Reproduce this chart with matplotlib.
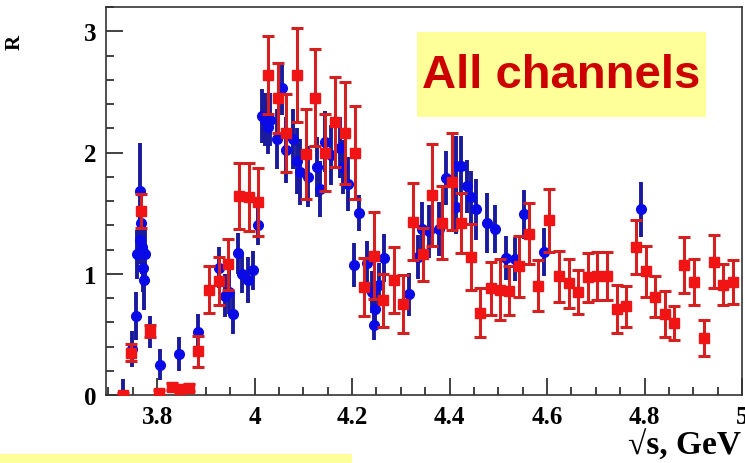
import matplotlib.pyplot as plt
from matplotlib.patches import Rectangle
from matplotlib.ticker import MultipleLocator

# Red squares: sqrt(s) [GeV], R, error
red_x = [3.730, 3.747, 3.767, 3.786, 3.804, 3.830, 3.847, 3.865, 3.884, 3.906,
         3.927, 3.945, 3.967, 3.988, 4.006, 4.027, 4.047, 4.065, 4.086, 4.106,
         4.124, 4.145, 4.165, 4.186, 4.206, 4.224, 4.245, 4.263, 4.286, 4.304,
         4.324, 4.345, 4.363, 4.384, 4.404, 4.424, 4.443, 4.463, 4.484, 4.504,
         4.522, 4.543, 4.563, 4.582, 4.604, 4.624, 4.645, 4.663, 4.684, 4.702,
         4.722, 4.743, 4.761, 4.782, 4.802, 4.822, 4.843, 4.861, 4.882, 4.902,
         4.922, 4.943, 4.961, 4.982]
red_y = [0.00, 0.35, 1.52, 0.53, 0.02, 0.07, 0.05, 0.06, 0.36, 0.87,
         0.94, 1.08, 1.64, 1.63, 1.59, 2.64, 2.45, 2.16, 2.64, 1.99,
         2.45, 2.00, 2.25, 2.16, 2.00, 0.89, 1.15, 0.78, 0.95, 0.75,
         1.43, 1.16, 1.65, 1.42, 1.76, 1.42, 1.14, 0.68, 0.88, 0.87,
         0.86, 1.06, 1.33, 0.90, 1.44, 0.98, 0.92, 0.85, 0.97, 0.98,
         0.98, 0.71, 0.73, 1.22, 1.02, 0.81, 0.67, 0.59, 1.07, 0.93,
         0.47, 1.10, 0.91, 0.93]
red_err = [0.02, 0.07, 0.14, 0.05, 0.02, 0.03, 0.03, 0.03, 0.13, 0.19,
           0.20, 0.21, 0.27, 0.28, 0.28, 0.32, 0.29, 0.32, 0.39, 0.37,
           0.40, 0.32, 0.37, 0.42, 0.38, 0.24, 0.36, 0.22, 0.27, 0.24,
           0.32, 0.22, 0.42, 0.30, 0.40, 0.25, 0.27, 0.20, 0.22, 0.25,
           0.20, 0.25, 0.25, 0.21, 0.26, 0.21, 0.20, 0.18, 0.20, 0.20,
           0.20, 0.20, 0.17, 0.22, 0.21, 0.17, 0.19, 0.14, 0.23, 0.19,
           0.15, 0.22, 0.17, 0.18]

# Blue circles
blue_x = [3.730, 3.748, 3.757, 3.765, 3.766, 3.759, 3.764, 3.768, 3.771, 3.775,
          3.770, 3.772, 3.786, 3.806, 3.845, 3.884, 3.927, 3.939, 3.947, 3.955,
          3.966, 3.975, 3.986, 3.996, 4.006, 4.016, 4.022, 4.027, 4.032, 4.045,
          4.057, 4.065, 4.078, 4.086, 4.094, 4.110, 4.127, 4.135, 4.145, 4.157,
          4.175, 4.182, 4.192, 4.214, 4.204, 4.231, 4.245, 4.246, 4.240, 4.265,
          4.255, 4.316, 4.335, 4.343, 4.357, 4.378, 4.392, 4.414, 4.424, 4.414,
          4.435, 4.443, 4.455, 4.476, 4.494, 4.516, 4.535, 4.553, 4.594, 4.792]
blue_y = [0.00, 0.38, 0.65, 1.68, 1.42, 1.16, 1.28, 1.22, 1.18, 1.16,
          1.05, 0.95, 0.52, 0.25, 0.34, 0.52, 1.05, 0.82, 0.85, 0.67,
          1.17, 1.00, 0.95, 1.03, 1.40, 2.30, 2.27, 2.21, 2.27, 2.11,
          2.53, 2.02, 2.11, 1.93, 1.84, 1.80, 1.88, 1.70, 2.09, 1.98,
          2.04, 1.88, 1.74, 1.50, 1.07, 1.09, 0.58, 0.71, 0.85, 1.13,
          0.91, 0.83, 1.14, 1.37, 1.35, 1.37, 1.79, 1.89, 1.89, 1.55,
          1.72, 1.63, 1.53, 1.42, 1.37, 1.13, 1.12, 1.49, 1.18, 1.53]
blue_err = [0.13, 0.15, 0.20, 0.40, 0.22, 0.20, 0.20, 0.22, 0.25, 0.20,
            0.20, 0.25, 0.13, 0.13, 0.14, 0.15, 0.17, 0.18, 0.18, 0.17,
            0.17, 0.16, 0.19, 0.16, 0.16, 0.22, 0.22, 0.22, 0.22, 0.25,
            0.22, 0.27, 0.25, 0.27, 0.27, 0.25, 0.25, 0.23, 0.25, 0.25,
            0.25, 0.22, 0.22, 0.15, 0.18, 0.18, 0.13, 0.15, 0.17, 0.20,
            0.18, 0.18, 0.18, 0.22, 0.22, 0.22, 0.22, 0.25, 0.25, 0.22,
            0.22, 0.22, 0.25, 0.25, 0.20, 0.18, 0.18, 0.20, 0.20, 0.23]

x_ticks = [3.8, 4.0, 4.2, 4.4, 4.6, 4.8, 5.0]
x_tick_labels = ['3.8', '4', '4.2', '4.4', '4.6', '4.8', '5']
y_ticks = [0, 1, 2, 3]
y_tick_labels = ['0', '1', '2', '3']

fig = plt.figure(figsize=(7.45, 4.64), dpi=100)
ax = fig.add_axes([106 / 745, 68 / 464, 636 / 745, 388 / 464])

ax.errorbar(blue_x, blue_y, yerr=blue_err, fmt='o', color='#0a0ae6',
            ecolor='#1a1a9c', elinewidth=2.8, markersize=7, capsize=0, zorder=2)
ax.errorbar(red_x, red_y, yerr=red_err, fmt='s', color='#f01414',
            ecolor='#d42020', elinewidth=2.2, markersize=7.5, capsize=4,
            capthick=2.2, zorder=3)

ax.set_xlim(3.695, 4.995)
ax.set_ylim(0, 3.2)
ax.set_xticks(x_ticks)
ax.set_xticklabels(x_tick_labels)
ax.set_yticks(y_ticks)
ax.set_yticklabels(y_tick_labels)
ax.xaxis.set_minor_locator(MultipleLocator(0.05))
ax.yaxis.set_minor_locator(MultipleLocator(0.2))
ax.tick_params(which='both', direction='in', top=False, right=False,
               color='#333333', width=1.3)
ax.tick_params(which='major', length=12, pad=7)
ax.tick_params(which='minor', length=6)
for lab in ax.get_xticklabels() + ax.get_yticklabels():
    lab.set_fontfamily('Liberation Serif')
    lab.set_fontweight('bold')
    lab.set_fontsize(18)
for sp in ax.spines.values():
    sp.set_color('#333333')
    sp.set_linewidth(1.2)

fig.text(15 / 745, 1 - 42 / 464, 'R', rotation=90, ha='center', va='center',
         fontfamily='Liberation Serif', fontweight='bold', fontsize=15)
fig.text(741 / 745, 1 - 446 / 464, '√s, GeV', ha='right', va='center',
         fontfamily='Liberation Serif', fontweight='bold', fontsize=24)

fig.patches.append(Rectangle((417 / 745, 1 - 118 / 464), 289 / 745, 85 / 464,
                             transform=fig.transFigure, facecolor='#ffff99',
                             edgecolor='none', zorder=5))
fig.text(561 / 745, 1 - 76 / 464, 'All channels', ha='center', va='center',
         fontfamily='Liberation Sans', fontweight='bold', fontsize=34,
         color='#cc0000', zorder=6)
fig.patches.append(Rectangle((0, 0), 352 / 745, 9 / 464,
                             transform=fig.transFigure, facecolor='#ffff99',
                             edgecolor='none'))

fig.savefig('out.png', dpi=100)
